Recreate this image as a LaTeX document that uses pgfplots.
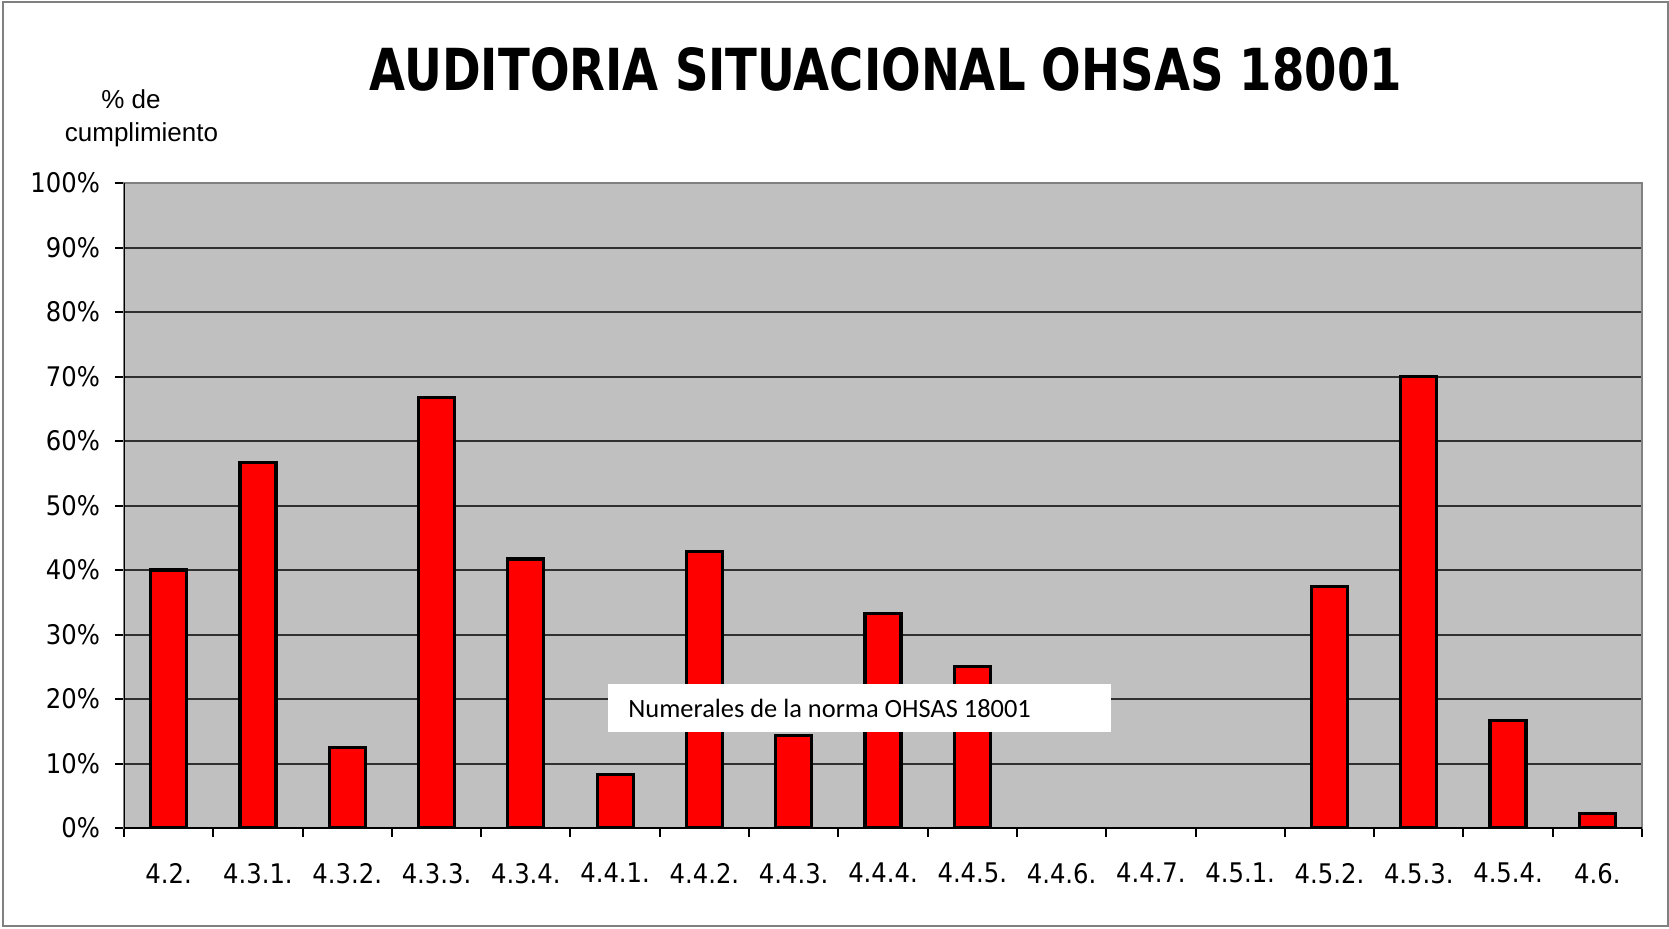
\documentclass[border=0pt]{standalone}
\usepackage{graphicx}
\usepackage{fontspec}
\setmainfont{DejaVu Sans Condensed}
\newfontfamily\arialfont{Liberation Sans}
\newfontfamily\calfont{Carlito}
\usepackage{pgfplots}
\pgfplotsset{compat=1.18}
\definecolor{plotbg}{HTML}{C0C0C0}
\definecolor{gridc}{HTML}{303030}
\definecolor{framec}{HTML}{808080}
\begin{document}
\begin{tikzpicture}
\path[use as bounding box] (0pt,0pt) rectangle (834.5pt,464pt);
\draw[framec, line width=0.8pt] (1.5pt,1pt) rectangle (834pt,463pt);
\begin{axis}[
  at={(62pt,50pt)}, anchor=south west,
  scale only axis, width=759pt, height=322.5pt,
  xmin=0, xmax=17, ymin=0, ymax=100,
  axis background/.style={fill=plotbg},
  axis line style={framec, line width=1.2pt},
  tick pos=left,
  tick align=outside,
  major tick length=4.5pt,
  tick style={black, line width=1pt},
  xtick={0,...,17}, xticklabels={},
  extra x ticks={0.5,1.5,2.5,3.5,4.5,5.5,6.5,7.5,8.5,9.5,10.5,11.5,12.5,13.5,14.5,15.5,16.5},
  extra x tick labels={4.2.,4.3.1.,4.3.2.,4.3.3.,4.3.4.,4.4.1.,4.4.2.,4.4.3.,4.4.4.,4.4.5.,4.4.6.,4.4.7.,4.5.1.,4.5.2.,4.5.3.,4.5.4.,4.6.},
  extra x tick style={major tick length=0pt},
  xticklabel style={yshift=-14pt},
  ytick={0,10,...,100},
  yticklabel={\pgfmathprintnumber{\tick}\%},
  yticklabel style={xshift=-4pt},
  /pgf/number format/assume math mode=true,
  tick label style={font=\fontsize{13.5}{15}\selectfont},
  ymajorgrids,
  grid style={gridc, line width=1pt},
]
\addplot[ybar, bar width=18pt, fill=red, draw=black, line width=1.6pt] coordinates {
  (0.5,40) (1.5,56.7) (2.5,12.5) (3.5,66.7) (4.5,41.7) (5.5,8.3)
  (6.5,42.9) (7.5,14.3) (8.5,33.3) (9.5,25)
  (13.5,37.5) (14.5,70) (15.5,16.7) (16.5,2.3)
};
% categories with 0 %
\addplot[ybar, bar width=18pt, draw=none, fill=none] coordinates {
  (10.5,0) (11.5,0) (12.5,0)
};
\draw[black, line width=1.2pt] (rel axis cs:0,1) -- (rel axis cs:0,0) -- (rel axis cs:1,0);
\end{axis}
\node at (443pt,429.5pt) {\resizebox{516pt}{21.5pt}{\bfseries\fontsize{29}{32}\selectfont AUDITORIA SITUACIONAL OHSAS 18001}};
\node[font=\arialfont\fontsize{13}{15}\selectfont] at (65.5pt,414.5pt) {\% de};
\node[font=\arialfont\fontsize{13}{15}\selectfont] at (70.75pt,396.5pt) {cumplimiento};
\fill[white] (304pt,98pt) rectangle (555.5pt,122pt);
\node[anchor=west, inner sep=0pt, font=\calfont\fontsize{13.2}{15}\selectfont] at (314pt,110pt) {Numerales de la norma OHSAS 18001};
\end{tikzpicture}
\end{document}
